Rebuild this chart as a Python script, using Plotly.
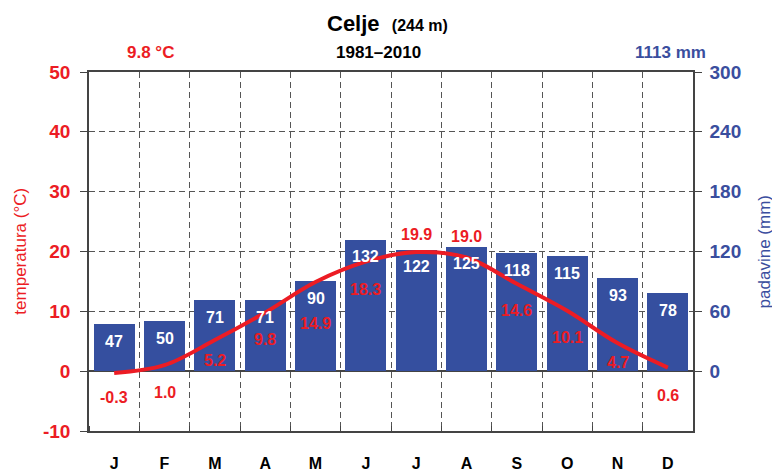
import plotly.graph_objects as go

# Celje (244 m), 1981-2010 climate normals
months = ["J", "F", "M", "A", "M", "J", "J", "A", "S", "O", "N", "D"]
temperature = [-0.3, 1.0, 5.2, 9.8, 14.9, 18.3, 19.9, 19.0, 14.6, 10.1, 4.7, 0.6]
precipitation = [47, 50, 71, 71, 90, 132, 122, 125, 118, 115, 93, 78]
temp_ticks = [-10, 0, 10, 20, 30, 40, 50]
prec_ticks = [0, 60, 120, 180, 240, 300]

RED = "#ec1c24"
BLUE = "#3a4e9e"
BAR = "#354f9f"
FONT = "Liberation Sans, Arial, sans-serif"

x = list(range(1, 13))
# pixel offsets of the temperature labels relative to their points
label_shift = [-25, -27, -20, -27, -41, -28, 18, 21, -27, -27, -19, -28]

fig = go.Figure()
fig.add_trace(go.Bar(
    x=x, y=precipitation, yaxis="y", width=0.82,
    marker=dict(color=BAR, line=dict(width=0)),
    hoverinfo="skip",
))
fig.add_trace(go.Scatter(
    x=x, y=temperature, yaxis="y2", mode="lines",
    line=dict(color=RED, width=4, shape="spline", smoothing=1.0),
    hoverinfo="skip",
))

# precipitation values inside the bars, near the top
for xi, p in zip(x, precipitation):
    fig.add_annotation(
        x=xi, y=p, xref="x", yref="y", text=f"<b>{p}</b>",
        showarrow=False, yshift=-17,
        font=dict(color="white", size=16, family=FONT),
    )

for xi, t, dy in zip(x, temperature, label_shift):
    fig.add_annotation(
        x=xi, y=t, xref="x", yref="y2", text=f"<b>{t:.1f}</b>",
        showarrow=False, yshift=dy,
        font=dict(color=RED, size=16, family=FONT),
    )

top = dict(xref="paper", yref="paper", showarrow=False, xanchor="center", yanchor="middle")
fig.add_annotation(
    x=0.495, y=1.134, **top,
    text="<b>Celje</b>  <span style='font-size:16px'><b>(244 m)</b></span>",
    font=dict(color="black", size=22, family=FONT),
)
fig.add_annotation(x=0.101, y=1.053, **top, text="<b>9.8 °C</b>",
                   font=dict(color=RED, size=17, family=FONT))
fig.add_annotation(x=0.48, y=1.053, **top, text="<b>1981–2010</b>",
                   font=dict(color="black", size=17, family=FONT))
fig.add_annotation(x=0.962, y=1.053, **top, text="<b>1113 mm</b>",
                   font=dict(color=BLUE, size=17, family=FONT))

# axis titles
fig.add_annotation(x=-0.114, y=0.5, **top, text="temperatura (°C)", textangle=-90,
                   font=dict(color=RED, size=17, family=FONT))
fig.add_annotation(x=1.119, y=0.5, **top, text="padavine (mm)", textangle=-90,
                   font=dict(color=BLUE, size=17, family=FONT))

# the page body adds an 8px margin, so the figure is 8px smaller on each side
fig.update_layout(
    width=772, height=464,
    margin=dict(l=81, r=87, t=64, b=41, autoexpand=False),
    paper_bgcolor="white", plot_bgcolor="white",
    showlegend=False, bargap=0,
    font=dict(family=FONT),
    xaxis=dict(
        range=[0.5, 12.5], tickvals=x, ticktext=[f"<b>{m}</b>" for m in months],
        ticks="", showgrid=False, zeroline=False, automargin=False,
        showline=True, linecolor="#444", linewidth=1.5, mirror=True,
        tickfont=dict(size=16, color="black"), ticklabelstandoff=17,
        minor=dict(tick0=0.5, dtick=1, ticks="inside", ticklen=5, tickcolor="#444",
                   showgrid=True, gridcolor="#555", griddash="6px,4px", gridwidth=1),
    ),
    yaxis=dict(
        side="right", range=[-60, 300], tickvals=prec_ticks,
        ticktext=[f"<b>{v}</b>" for v in prec_ticks],
        tickfont=dict(size=19, color=BLUE), automargin=False,
        ticks="outside", ticklen=7, tickcolor="#444", ticklabelstandoff=4,
        showline=True, linecolor="#444", linewidth=1.5,
        showgrid=True, gridcolor="#555", griddash="6px,4px", gridwidth=1,
        zeroline=True, zerolinecolor="#444", zerolinewidth=1.5,
    ),
    yaxis2=dict(
        side="left", overlaying="y", range=[-10, 50], tickvals=temp_ticks,
        ticktext=[f"<b>{v}</b>" for v in temp_ticks],
        tickfont=dict(size=19, color=RED), automargin=False,
        ticks="outside", ticklen=7, tickcolor="#444", ticklabelstandoff=6,
        showline=True, linecolor="#444", linewidth=1.5,
        showgrid=False, zeroline=False,
    ),
)

fig.write_html("out.html")
